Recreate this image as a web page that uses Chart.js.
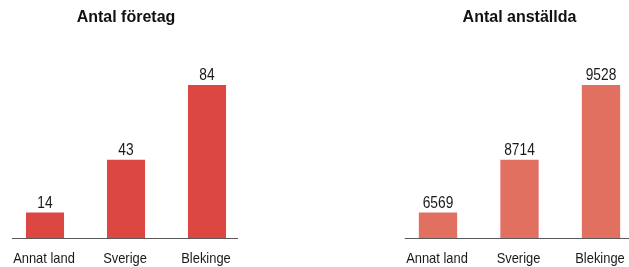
<!DOCTYPE html>
<html>
<head>
<meta charset="utf-8">
<script src="https://cdn.jsdelivr.net/npm/chart.js@4"></script>
<style>
  html, body { margin: 0; padding: 0; background: #fff; }
  body { width: 629px; height: 267px; overflow: hidden; position: relative; }
  #leftChart { position: absolute; left: 0; top: 0; }
  #rightChart { position: absolute; left: 314px; top: 0; }
</style>
</head>
<body>
<canvas id="leftChart" width="314" height="267"></canvas>
<canvas id="rightChart" width="340" height="267"></canvas>
<script>
const categories = ['Annat land', 'Sverige', 'Blekinge'];

const foretagTitle = 'Antal företag';
const foretagValues = [14, 43, 84];

const anstalldaTitle = 'Antal anställda';
const anstalldaValues = [6569, 8714, 9528];
// bar heights as drawn in the source: same heights as the left panel, not to scale with the labels
const anstalldaBarHeights = [14, 43, 84];

const textFont = "'Liberation Sans', Arial, sans-serif";

// the source uses a condensed face, so squeeze the text a little
function drawNarrow(ctx, text, x, y, sx) {
    ctx.save();
    ctx.translate(x, y);
    ctx.scale(sx, 1);
    ctx.fillText(text, 0, 0);
    ctx.restore();
}

// value labels above the bars + category labels under the axis
const barTexts = {
    id: 'barTexts',
    afterDatasetsDraw(chart, args, opts) {
        const ctx = chart.ctx;
        const meta = chart.getDatasetMeta(0);
        const xScale = chart.scales.x;
        const base = chart.chartArea.bottom;
        ctx.save();
        ctx.fillStyle = '#1a1a1a';
        ctx.textAlign = 'center';
        ctx.textBaseline = 'alphabetic';
        ctx.font = '16px ' + textFont;
        meta.data.forEach((bar, i) => {
            drawNarrow(ctx, String(opts.labels[i]), bar.x, bar.y - 5, 0.86);
        });
        ctx.font = '15px ' + textFont;
        chart.data.labels.forEach((lab, i) => {
            drawNarrow(ctx, lab, xScale.getPixelForValue(i) - 1, base + 25, 0.86);
        });
        ctx.restore();
    }
};

// baseline under the bars
const baseLine = {
    id: 'baseLine',
    afterDatasetsDraw(chart) {
        const ctx = chart.ctx;
        const area = chart.chartArea;
        const y = Math.round(chart.scales.y.getPixelForValue(0)) + 0.5;
        ctx.save();
        ctx.strokeStyle = '#5a5a5a';
        ctx.lineWidth = 1.2;
        ctx.beginPath();
        ctx.moveTo(area.left + 7.5, y);
        ctx.lineTo(area.right - 9.5, y);
        ctx.stroke();
        ctx.restore();
    }
};

function makeChart(canvasId, title, barValues, labels, color, padLeft, padRight) {
    return new Chart(document.getElementById(canvasId), {
        type: 'bar',
        data: {
            labels: categories,
            datasets: [{
                data: barValues,
                backgroundColor: color,
                borderWidth: 0,
                barPercentage: 0.47,
                categoryPercentage: 1
            }]
        },
        options: {
            responsive: false,
            animation: false,
            layout: { padding: { left: padLeft, right: padRight, top: 0, bottom: 0 } },
            scales: {
                x: {
                    grid: { display: false, drawTicks: false },
                    border: { display: false },
                    afterFit(scale) { scale.height = 29; },
                    ticks: { display: false }
                },
                y: {
                    display: false,
                    min: 0,
                    max: 100
                }
            },
            plugins: {
                legend: { display: false },
                tooltip: { enabled: false },
                title: {
                    display: true,
                    text: title,
                    color: '#111',
                    font: { family: textFont, size: 16, weight: 'bold' },
                    padding: { top: 8, bottom: 28.8 }
                },
                barTexts: { labels: labels }
            }
        },
        plugins: [barTexts, baseLine]
    });
}

makeChart('leftChart', foretagTitle, foretagValues, foretagValues, '#dc4742', 4.5, 66.5);
makeChart('rightChart', anstalldaTitle, anstalldaBarHeights, anstalldaValues, '#e27061', 83.25, 12.25);
</script>
</body>
</html>
